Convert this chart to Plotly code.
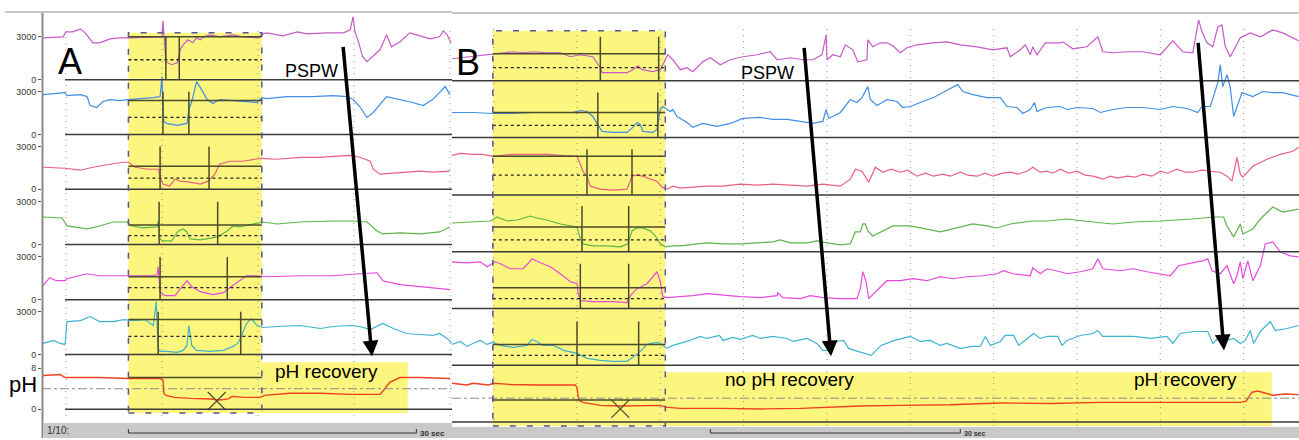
import plotly.graph_objects as go

W, H = 1299, 440

# ====================== DATA ======================
# Panel A : time in seconds, impedance in ohm, pH in pH units
A_ch1_t = [7.6, 9.7, 10.0, 10.7, 11.5, 12.0, 12.8, 13.5, 14.6, 15.6, 16.5, 18.75, 20.0, 20.1, 20.2, 20.4, 21.0, 21.6, 21.9, 22.2, 22.7, 23.2, 23.6, 24.0, 24.3, 25.0, 26.0, 27.4, 28.4, 29.5, 30.0, 30.5, 30.9, 32.6, 34.1, 35.1, 37.2, 38.9, 39.6, 39.9, 40.1, 40.4, 40.9, 41.35, 41.9, 42.7, 43.4, 43.9, 44.8, 45.8, 46.9, 47.9, 48.9, 49.3, 49.7, 50.1]
A_ch1_ohm = [2940, 3010, 3360, 3360, 3570, 3290, 2590, 2590, 2870, 2940, 2940, 3010, 3010, 4130, 3010, 1260, 1050, 1190, 2100, 2450, 2800, 2590, 2940, 2800, 3010, 3150, 3010, 3150, 3010, 2940, 2940, 3220, 3290, 3080, 3360, 3220, 3290, 3290, 3500, 4410, 3360, 2800, 1610, 1260, 1610, 2100, 3150, 2310, 2660, 3290, 3080, 2870, 3010, 3430, 3150, 2590]

A_ch2_t = [7.6, 9.9, 10.1, 11.5, 12.2, 12.5, 13.2, 13.85, 14.6, 15.6, 16.5, 18.0, 19.1, 19.8, 20.0, 20.1, 20.2, 20.5, 21.6, 22.6, 22.8, 23.1, 23.4, 23.6, 24.0, 24.7, 25.3, 26.0, 27.4, 28.8, 29.9, 30.4, 30.9, 33.0, 35.7, 37.8, 39.3, 39.9, 40.6, 41.35, 42.0, 43.4, 44.8, 46.1, 47.2, 48.2, 49.5, 50.0]
A_ch2_ohm = [2800, 2940, 2730, 2800, 2660, 2030, 1890, 2310, 2450, 2380, 2450, 2520, 2590, 2660, 4060, 1960, 910, 770, 630, 770, 1750, 2310, 3150, 3710, 3290, 2450, 2170, 2450, 2380, 2310, 2240, 2590, 2520, 2660, 2660, 2730, 2660, 2450, 1960, 1190, 1540, 2660, 2450, 2240, 2030, 2450, 3360, 2800]

A_ch3_t = [7.6, 9.9, 11.5, 12.8, 14.6, 15.9, 16.5, 17.2, 18.6, 19.6, 19.9, 20.1, 20.8, 21.35, 21.9, 22.9, 24.0, 24.8, 25.5, 26.0, 27.1, 28.4, 30.4, 31.9, 34.4, 36.5, 37.8, 39.6, 40.6, 41.7, 42.0, 42.7, 44.1, 45.5, 46.9, 48.2, 50.0]
A_ch3_ohm = [1540, 1470, 1330, 1540, 1750, 1890, 1890, 1540, 1400, 1400, 700, 350, 210, 700, 560, 490, 350, 560, 1050, 1750, 1960, 1960, 2170, 2100, 2240, 2240, 2310, 2380, 2240, 1960, 1400, 1050, 1120, 1190, 1260, 1190, 1260]

A_ch4_t = [7.6, 9.6, 10.1, 12.2, 13.5, 14.9, 16.35, 16.9, 18.0, 19.5, 19.6, 19.8, 20.1, 21.0, 21.7, 22.2, 22.6, 22.9, 24.0, 25.0, 25.8, 26.8, 27.4, 28.1, 29.5, 30.5, 32.0, 34.4, 37.8, 39.9, 41.35, 42.4, 43.0, 44.8, 46.9, 48.9, 50.0]
A_ch4_ohm = [1925, 1855, 1295, 1085, 1295, 1575, 1575, 1295, 1155, 1225, 1645, 385, 245, 245, 945, 1085, 875, 385, 315, 455, 525, 945, 1295, 1225, 1435, 1575, 1435, 1575, 1645, 1645, 1575, 945, 735, 805, 735, 875, 1225]

A_ch5_t = [7.6, 8.3, 9.0, 9.9, 10.1, 12.2, 13.5, 16.5, 18.75, 19.5, 19.6, 19.8, 20.3, 21.35, 22.2, 22.6, 23.1, 24.0, 25.3, 26.4, 26.9, 27.8, 28.8, 29.9, 30.5, 30.9, 34.4, 37.8, 40.6, 42.4, 43.0, 44.8, 46.9, 48.9, 50.0]
A_ch5_ohm = [980, 1540, 1330, 1330, 1470, 1820, 1680, 1680, 1680, 1750, 2310, 560, 280, 280, 980, 1330, 910, 560, 350, 490, 770, 1190, 1680, 1680, 1610, 1610, 1680, 1680, 1820, 1890, 1330, 1050, 910, 770, 700]

A_ch6_t = [7.6, 8.7, 9.4, 9.9, 10.1, 11.5, 12.5, 13.5, 14.9, 16.0, 17.1, 18.2, 19.1, 19.4, 19.6, 19.8, 20.5, 21.6, 22.2, 22.6, 22.8, 23.1, 23.6, 25.0, 26.4, 27.4, 27.9, 28.3, 28.8, 29.3, 29.9, 30.5, 32.0, 34.4, 36.5, 37.8, 39.6, 40.6, 41.7, 43.0, 44.1, 45.5, 46.9, 48.2, 48.9, 49.7, 50.2]
A_ch6_ohm = [770, 980, 770, 700, 2310, 2380, 2660, 2310, 2310, 2450, 2380, 2450, 2030, 3710, 420, 210, 210, 140, 280, 630, 2030, 630, 280, 210, 280, 560, 770, 1330, 2170, 2520, 2030, 1890, 1960, 2030, 1820, 1960, 2030, 1960, 1750, 2170, 1820, 1470, 1400, 1330, 1470, 1120, 770]

A_ph_t = [7.6, 9.4, 9.9, 13.5, 16.5, 19.8, 20.1, 20.2, 20.4, 21.35, 22.9, 25.0, 26.0, 26.9, 27.3, 28.6, 30.2, 30.7, 33.3, 36.5, 39.6, 42.7, 43.0, 43.75, 44.8, 46.9, 50.0]
A_ph = [6.6, 6.8, 6.2, 6.2, 6.0, 6.0, 5.7, 3.1, 2.7, 2.3, 2.1, 2.0, 1.8, 2.0, 2.5, 2.3, 2.3, 2.7, 3.1, 3.1, 2.9, 2.9, 3.5, 5.3, 6.2, 6.2, 6.0]

# Panel B
B_ch1_t = [5.0, 6.0, 8.4, 9.9, 11.6, 12.3, 13.5, 14.7, 16.4, 18.0, 19.2, 20.4, 21.9, 22.8, 23.0, 24.3, 26.0, 26.7, 27.3, 27.8, 29.1, 30.0, 30.6, 30.9, 31.5, 32.4, 33.2, 33.9, 35.1, 36.0, 37.2, 38.4, 39.9, 41.6, 43.2, 44.0, 45.6, 47.1, 48.3, 49.4, 49.9, 50.0, 50.7, 51.6, 52.2, 53.1, 53.7, 54.8, 54.9, 55.5, 56.4, 57.2, 57.9, 58.8, 59.6, 60.8, 62.7, 64.4, 66.0, 68.0, 69.9, 71.6, 72.0, 73.2, 73.8, 74.4, 74.7, 75.2, 76.2, 78.0, 78.3, 79.5, 81.2, 82.5, 83.1, 84.3, 86.0, 87.9, 90.0, 91.5, 92.7, 93.9, 94.6, 95.0, 95.6, 96.3, 96.9, 97.4, 97.8, 98.4, 99.6, 100.8, 102.0, 103.5, 104.7, 105.9, 106.6]
B_ch1_ohm = [1540, 1610, 1750, 1890, 1960, 2030, 1960, 2030, 1960, 1960, 1680, 1820, 1680, 910, 560, 560, 560, 770, 1050, 770, 630, 770, 1470, 1820, 1470, 770, 910, 630, 1330, 1610, 1120, 1470, 1680, 1820, 2030, 1470, 1610, 1470, 1470, 1820, 3220, 1470, 1820, 1680, 2520, 2170, 1330, 1470, 2870, 2380, 2660, 2660, 2450, 1960, 2310, 2520, 2660, 2730, 2520, 2380, 2170, 2310, 1680, 2170, 2520, 1820, 2380, 1820, 2660, 2660, 2730, 2240, 2380, 3080, 2030, 1960, 2030, 2030, 1820, 2800, 2030, 1960, 4270, 3430, 2660, 2380, 3780, 3920, 2380, 1680, 3010, 3360, 3080, 3570, 3360, 3010, 2800]

B_ch2_t = [5.0, 7.5, 9.9, 12.3, 14.7, 17.1, 19.5, 20.4, 21.2, 21.9, 22.5, 23.0, 24.3, 26.0, 26.7, 27.2, 27.6, 27.9, 29.1, 29.6, 30.0, 30.3, 31.2, 31.5, 32.0, 33.2, 33.9, 35.1, 36.8, 38.4, 39.9, 42.0, 43.5, 45.2, 46.8, 48.3, 49.5, 49.9, 50.2, 51.6, 52.8, 53.6, 54.2, 54.9, 55.2, 56.0, 57.2, 58.4, 59.1, 60.0, 61.2, 62.8, 63.9, 65.1, 65.7, 66.3, 67.5, 69.2, 70.8, 71.6, 72.8, 73.5, 74.4, 74.9, 75.2, 76.4, 78.0, 78.8, 80.0, 81.9, 82.8, 84.3, 86.0, 87.9, 90.0, 91.5, 93.2, 94.5, 95.0, 96.0, 96.9, 97.2, 97.5, 98.0, 98.4, 98.8, 99.2, 99.8, 101.1, 102.3, 103.5, 104.7, 106.6]
B_ch2_ohm = [1750, 1750, 1680, 1680, 1750, 1750, 1750, 1890, 1820, 1470, 840, 420, 350, 350, 700, 1050, 910, 420, 350, 560, 1960, 2170, 1820, 1960, 1470, 1050, 700, 980, 770, 980, 1330, 1400, 1260, 1260, 1120, 980, 1120, 1960, 1330, 1750, 2660, 2450, 2800, 3570, 2660, 2240, 2660, 2520, 2100, 2170, 2450, 2800, 3150, 3500, 3710, 3220, 3010, 2800, 2800, 2170, 2100, 1680, 1960, 2450, 1820, 2100, 2170, 1960, 2100, 2030, 1750, 1960, 2100, 2100, 1960, 2170, 2030, 1750, 2170, 2170, 3850, 5110, 3570, 4410, 3500, 1470, 2170, 3150, 2870, 3220, 3150, 3150, 2870]

B_ch3_t = [5.0, 6.0, 7.5, 8.7, 9.9, 12.3, 14.7, 16.4, 18.0, 19.2, 20.0, 20.4, 20.7, 21.2, 21.6, 22.8, 24.3, 26.0, 26.6, 27.2, 27.9, 28.8, 29.6, 30.2, 30.8, 31.5, 32.4, 33.9, 35.6, 37.5, 39.6, 41.6, 43.5, 45.6, 47.6, 49.5, 51.6, 52.8, 53.4, 54.2, 54.8, 55.0, 55.8, 56.7, 57.7, 58.8, 59.7, 60.8, 61.8, 62.8, 63.9, 64.8, 66.0, 66.9, 68.0, 69.0, 69.9, 71.1, 72.0, 72.9, 74.0, 74.7, 75.6, 76.4, 77.1, 78.0, 79.0, 80.0, 81.0, 81.9, 82.8, 83.1, 84.0, 84.9, 86.0, 87.0, 87.9, 89.0, 90.0, 90.9, 92.0, 93.0, 93.9, 95.0, 96.0, 97.2, 98.0, 98.6, 99.2, 99.6, 99.9, 101.1, 102.8, 104.4, 105.9, 106.6]
B_ch3_ohm = [2800, 2940, 2870, 2870, 2730, 2870, 2870, 2870, 2800, 2730, 2730, 2170, 1680, 1330, 630, 420, 350, 420, 1330, 1400, 1330, 1120, 980, 560, 420, 630, 490, 560, 630, 630, 770, 700, 770, 700, 630, 770, 630, 1120, 1820, 1680, 1120, 910, 1960, 1610, 1820, 1610, 1750, 1330, 1540, 1330, 1470, 1330, 1610, 1400, 1330, 1540, 1330, 1540, 1610, 1470, 1680, 1960, 1610, 1680, 1540, 1820, 1540, 1680, 1400, 1330, 1190, 1120, 1330, 1190, 1330, 1260, 1470, 1330, 1680, 1540, 1820, 1610, 1610, 1750, 1680, 1610, 1330, 980, 2660, 1470, 1260, 2030, 2520, 2870, 3080, 3360]

B_ch4_t = [5.0, 8.4, 9.6, 10.4, 11.6, 12.8, 14.4, 15.2, 16.4, 18.0, 19.5, 20.0, 20.4, 20.7, 21.9, 23.6, 25.2, 26.1, 26.6, 27.2, 27.9, 28.8, 29.4, 30.0, 30.6, 31.5, 32.4, 33.6, 35.6, 37.5, 39.6, 41.6, 43.5, 44.4, 45.6, 47.6, 48.8, 50.0, 51.6, 52.8, 53.4, 54.0, 54.3, 54.6, 54.9, 55.5, 56.7, 57.9, 60.0, 62.0, 63.6, 65.1, 67.5, 69.2, 70.4, 72.0, 74.7, 76.4, 78.8, 81.9, 84.3, 86.7, 90.0, 93.9, 96.4, 97.6, 98.0, 98.8, 99.6, 99.9, 101.1, 102.0, 103.5, 104.7, 106.6]
B_ch4_ohm = [2030, 2170, 2170, 2450, 2170, 2240, 2520, 2380, 2240, 1960, 1820, 1750, 910, 560, 420, 420, 350, 560, 1470, 1680, 1680, 1470, 1120, 560, 350, 420, 420, 490, 630, 560, 560, 630, 700, 840, 630, 630, 770, 630, 490, 560, 1400, 1400, 1960, 1960, 1470, 1120, 1470, 1820, 1820, 1610, 1400, 1610, 1960, 1820, 1680, 1960, 2170, 2170, 2310, 2100, 1960, 2100, 2170, 2310, 2450, 2450, 1820, 1050, 1960, 1260, 1610, 2310, 3150, 2800, 3010]

B_ch5_t = [5.0, 6.8, 8.4, 9.2, 10.2, 10.8, 12.0, 13.5, 14.1, 14.6, 15.6, 16.8, 18.0, 19.2, 20.0, 20.1, 20.4, 21.9, 24.3, 26.0, 26.4, 27.2, 28.4, 29.6, 30.0, 30.3, 30.8, 32.4, 33.9, 35.6, 38.0, 39.6, 42.0, 44.0, 44.1, 44.7, 46.8, 48.0, 49.5, 51.6, 53.6, 54.0, 54.3, 54.7, 55.0, 56.0, 57.2, 58.8, 60.3, 62.0, 63.6, 65.1, 66.8, 68.7, 70.4, 71.2, 72.3, 74.4, 74.7, 75.6, 76.4, 78.0, 78.8, 80.4, 81.9, 82.5, 83.1, 85.2, 86.7, 88.4, 90.0, 91.2, 92.2, 93.2, 94.4, 95.1, 95.7, 96.2, 97.2, 98.0, 98.8, 99.2, 99.6, 99.9, 100.5, 101.1, 102.0, 102.6, 103.5, 104.4, 105.6, 106.6]
B_ch5_ohm = [3290, 3220, 3290, 2940, 3290, 3150, 2800, 2800, 3150, 3500, 3220, 2940, 2450, 1890, 1750, 1190, 560, 490, 490, 420, 910, 1400, 1750, 2590, 1890, 840, 770, 840, 910, 1050, 910, 840, 770, 910, 1120, 770, 700, 910, 770, 700, 700, 1400, 2590, 1890, 700, 1260, 1960, 1960, 2100, 1960, 2240, 2100, 2240, 2310, 2450, 2660, 2450, 2310, 2870, 2450, 2800, 2590, 2450, 2590, 2800, 3500, 2800, 2660, 2800, 2590, 2450, 2310, 3010, 3150, 3290, 3360, 3500, 2660, 2450, 3010, 1750, 2310, 3290, 2100, 3360, 1960, 3010, 4550, 4690, 3990, 3710, 3640]

B_ch6_t = [5.0, 6.0, 6.8, 7.5, 8.4, 9.2, 9.9, 10.8, 12.3, 14.0, 14.6, 15.2, 15.9, 17.2, 18.4, 20.0, 21.2, 22.8, 24.3, 26.0, 26.7, 27.6, 28.4, 29.6, 30.2, 30.8, 31.5, 33.2, 34.8, 35.6, 37.1, 37.5, 38.7, 39.6, 41.1, 42.0, 43.5, 45.2, 45.9, 47.6, 48.8, 49.5, 50.4, 51.2, 52.0, 52.6, 53.7, 55.3, 56.5, 58.1, 60.0, 61.2, 62.4, 63.6, 64.4, 66.0, 67.5, 68.4, 69.0, 69.6, 70.8, 71.4, 72.4, 73.0, 73.6, 74.8, 75.6, 76.4, 77.7, 78.2, 78.8, 80.4, 81.9, 82.5, 83.1, 85.2, 86.8, 88.8, 90.8, 91.5, 92.4, 94.0, 95.7, 96.3, 96.9, 97.6, 98.8, 99.6, 100.2, 100.8, 101.2, 102.0, 103.2, 103.8, 105.2, 106.6]
B_ch6_ohm = [1470, 1680, 1330, 1540, 1750, 1470, 1610, 1400, 1260, 1400, 1820, 1680, 1400, 1400, 1050, 840, 490, 350, 280, 280, 560, 980, 1470, 1610, 1470, 1190, 1400, 1680, 2030, 1890, 2100, 1750, 1960, 1820, 2100, 1890, 2030, 1890, 1680, 1890, 1540, 1050, 1050, 1680, 1750, 1190, 980, 700, 1400, 1750, 2030, 1680, 1750, 1400, 1540, 1190, 1330, 1330, 2030, 1400, 1680, 2100, 2100, 1400, 1680, 2240, 1890, 2030, 2030, 1400, 1750, 2100, 2240, 2450, 2030, 2030, 2030, 1890, 2030, 1540, 2240, 2380, 2380, 1540, 1890, 1680, 1890, 1540, 1750, 2450, 1540, 2380, 3080, 2450, 2590, 2800]

B_ph_t = [5.0, 6.8, 7.5, 9.4, 9.9, 12.0, 15.6, 19.8, 20.0, 20.2, 20.7, 22.8, 25.2, 27.6, 30.0, 30.6, 32.4, 37.2, 42.0, 46.8, 50.4, 54.0, 58.8, 64.8, 70.8, 76.8, 82.8, 88.8, 94.8, 99.6, 100.3, 101.0, 101.7, 103.5, 105.0, 106.6]
B_ph = [6.5, 6.2, 6.5, 6.2, 6.5, 6.3, 6.2, 6.2, 5.8, 3.7, 3.3, 2.8, 2.7, 2.8, 2.8, 2.5, 2.3, 2.3, 2.2, 2.3, 2.5, 2.7, 2.8, 2.9, 3.2, 3.1, 3.3, 3.3, 3.2, 3.3, 3.5, 5.0, 5.2, 4.5, 4.7, 4.6]

# Reflux event analysis (seconds / ohm / pH)
A_window = [16.5, 30.4]
A_recovery_window = [30.4, 45.6]
A_entry = [20.4, 20.1, 19.8, 19.7, 19.8, 19.6]
A_exit = [21.8, 22.8, 24.9, 25.8, 26.8, 28.2]
A_base_ohm = [3010, 2380, 1610, 1365, 1610, 2450]
A_half_ohm = [1400, 1190, 770, 615, 840, 1260]
A_marker_top = [3000, 3000, 3000, 3000, 3000, 3000]
A_ph_event_level = [6.2]
A_xmark_t = [25.7]
A_xmark_ph = [1.6]

B_window = [9.9, 30.6]
B_recovery_window = [30.6, 103.4]
B_entry = [22.8, 22.5, 21.2, 20.6, 20.4, 20.0]
B_exit = [29.8, 29.7, 26.6, 26.2, 26.2, 27.4]
B_base_ohm = [1890, 1750, 2730, 1750, 1470, 1470]
B_half_ohm = [910, 840, 1400, 840, 700, 700]
B_marker_top = [3080, 3150, 3220, 3220, 3150, 3080]
B_ph_event_level = [3.7]
B_xmark_t = [25.2]
B_xmark_ph = [2.2]

PH_REFERENCE = [4]
A_grid_t = [10, 20, 30, 40, 50]
B_grid_t = [10, 20, 30, 40, 50, 60, 70, 80, 90, 100]
A_scalebar_t = [16.5, 46.5]
B_scalebar_t = [36.0, 66.0]
IMP_TICKS = [0, 3000]
PH_TICKS = [0, 8]

# ====================== GEOMETRY / STYLE ======================
A_BASE_PX = [80, 135, 190, 245.5, 301, 356]
A_PH_BASE_PX = 411
B_BASE_PX = [81, 138, 196, 253, 310, 367]
B_PH_BASE_PX = 424
SPAN_PX = 80
PAD_PX = 3
OHM_PER_PX = 70.0
A_PH_PX = 5.125
B_PH_PX = 6.0
PH_SPAN_PX = 50

CH_COLORS = ['#c65ac8', '#3f8fe6', '#ea5f80', '#5db64a', '#e64ade', '#3fb3cf']
PH_COLOR = '#f0401e'
YELLOW = '#fcf67e'
EVENT_COLOR = '#4b4b2d'
FONT = 'Liberation Sans, Arial, sans-serif'


def py(px):
    return 1 - px / H


def yname(n):
    return 'y' if n == 1 else f'y{n}'


def ykey(n):
    return 'yaxis' if n == 1 else f'yaxis{n}'


layout_axes = {
    'xaxis': dict(domain=[42 / W, 452 / W], range=[7.5, 7.5 + 410 / 9.6], visible=False, anchor='y7'),
    'xaxis2': dict(domain=[452 / W, 1.0], range=[5.0, 5.0 + 847 / 8.333], visible=False, anchor='y14'),
}

fig = go.Figure()

A_t = [A_ch1_t, A_ch2_t, A_ch3_t, A_ch4_t, A_ch5_t, A_ch6_t]
A_v = [A_ch1_ohm, A_ch2_ohm, A_ch3_ohm, A_ch4_ohm, A_ch5_ohm, A_ch6_ohm]
B_t = [B_ch1_t, B_ch2_t, B_ch3_t, B_ch4_t, B_ch5_t, B_ch6_t]
B_v = [B_ch1_ohm, B_ch2_ohm, B_ch3_ohm, B_ch4_ohm, B_ch5_ohm, B_ch6_ohm]

tickfont = dict(size=9, color='#3a3a3a', family=FONT)

for i in range(6):
    n = i + 1
    b = A_BASE_PX[i]
    layout_axes[ykey(n)] = dict(
        domain=[py(b + PAD_PX), min(1.0, py(b - SPAN_PX))],
        range=[-PAD_PX * OHM_PER_PX, SPAN_PX * OHM_PER_PX],
        anchor='x', showgrid=False, zeroline=False, showline=False,
        tickmode='array', tickvals=IMP_TICKS, ticktext=[str(v) for v in IMP_TICKS],
        ticks='outside', ticklen=3, tickcolor='#555', tickfont=tickfont)
    fig.add_trace(go.Scatter(x=A_t[i], y=A_v[i], xaxis='x', yaxis=yname(n), mode='lines',
                             line=dict(color=CH_COLORS[i], width=1.2), hoverinfo='skip', showlegend=False))

layout_axes[ykey(7)] = dict(
    domain=[py(A_PH_BASE_PX + PAD_PX), py(A_PH_BASE_PX - PH_SPAN_PX)],
    range=[-PAD_PX / A_PH_PX, PH_SPAN_PX / A_PH_PX],
    anchor='x', showgrid=False, zeroline=False, showline=False,
    tickmode='array', tickvals=PH_TICKS, ticktext=[str(v) for v in PH_TICKS],
    ticks='outside', ticklen=3, tickcolor='#555', tickfont=tickfont)
fig.add_trace(go.Scatter(x=A_ph_t, y=A_ph, xaxis='x', yaxis='y7', mode='lines',
                         line=dict(color=PH_COLOR, width=1.4), hoverinfo='skip', showlegend=False))

for i in range(6):
    n = 8 + i
    b = B_BASE_PX[i]
    layout_axes[ykey(n)] = dict(
        domain=[py(b + PAD_PX), min(1.0, py(b - SPAN_PX))],
        range=[-PAD_PX * OHM_PER_PX, SPAN_PX * OHM_PER_PX],
        anchor='x2', visible=False, showgrid=False, zeroline=False)
    fig.add_trace(go.Scatter(x=B_t[i], y=B_v[i], xaxis='x2', yaxis=yname(n), mode='lines',
                             line=dict(color=CH_COLORS[i], width=1.2), hoverinfo='skip', showlegend=False))

layout_axes[ykey(14)] = dict(
    domain=[py(B_PH_BASE_PX + PAD_PX), py(B_PH_BASE_PX - PH_SPAN_PX)],
    range=[-PAD_PX / B_PH_PX, PH_SPAN_PX / B_PH_PX],
    anchor='x2', visible=False, showgrid=False, zeroline=False)
fig.add_trace(go.Scatter(x=B_ph_t, y=B_ph, xaxis='x2', yaxis='y14', mode='lines',
                         line=dict(color=PH_COLOR, width=1.4), hoverinfo='skip', showlegend=False))

# X marks (pH nadir)
fig.add_trace(go.Scatter(x=A_xmark_t, y=A_xmark_ph, xaxis='x', yaxis='y7', mode='markers',
                         marker=dict(symbol='x-thin', size=18, line=dict(width=1.2, color=EVENT_COLOR)),
                         hoverinfo='skip', showlegend=False))
fig.add_trace(go.Scatter(x=B_xmark_t, y=B_xmark_ph, xaxis='x2', yaxis='y14', mode='markers',
                         marker=dict(symbol='x-thin', size=18, line=dict(width=1.2, color=EVENT_COLOR)),
                         hoverinfo='skip', showlegend=False))

# ====================== SHAPES ======================
shapes = []
# yellow highlights
shapes.append(dict(type='rect', xref='x', yref='paper', x0=A_window[0], x1=A_window[1],
                   y0=py(415), y1=py(33), fillcolor=YELLOW, line_width=0, layer='below'))
shapes.append(dict(type='rect', xref='x', yref='paper', x0=A_recovery_window[0], x1=A_recovery_window[1],
                   y0=py(415), y1=py(364), fillcolor=YELLOW, line_width=0, layer='below'))
shapes.append(dict(type='rect', xref='x2', yref='paper', x0=B_window[0], x1=B_window[1],
                   y0=py(428), y1=py(31), fillcolor=YELLOW, line_width=0, layer='below'))
shapes.append(dict(type='rect', xref='x2', yref='paper', x0=B_recovery_window[0], x1=B_recovery_window[1],
                   y0=py(428), y1=py(374), fillcolor=YELLOW, line_width=0, layer='below'))

# dotted time grid
for t in A_grid_t:
    shapes.append(dict(type='line', xref='x', yref='paper', x0=t, x1=t, y0=py(418), y1=py(28),
                       line=dict(color='#8a8a8a', width=1, dash='1px,5px'), layer='below'))
for t in B_grid_t:
    shapes.append(dict(type='line', xref='x2', yref='paper', x0=t, x1=t, y0=py(428), y1=py(28),
                       line=dict(color='#8a8a8a', width=1, dash='1px,5px'), layer='below'))

# channel baselines
A_x_start, A_x_end = 9.9, 7.5 + 410 / 9.6
B_x_start, B_x_end = 5.0, 5.0 + 847 / 8.333
for n in range(1, 8):
    shapes.append(dict(type='line', xref='x', yref=yname(n), x0=A_x_start, x1=A_x_end, y0=0, y1=0,
                       line=dict(color='#3a3a3a', width=1.5)))
for n in range(8, 15):
    shapes.append(dict(type='line', xref='x2', yref=yname(n), x0=B_x_start, x1=B_x_end, y0=0, y1=0,
                       line=dict(color='#3a3a3a', width=1.5)))

# pH 4 reference
shapes.append(dict(type='line', xref='x', yref='y7', x0=7.5, x1=A_x_end, y0=PH_REFERENCE[0], y1=PH_REFERENCE[0],
                   line=dict(color='#8c8c8c', width=1, dash='dashdot')))
shapes.append(dict(type='line', xref='x2', yref='y14', x0=B_x_start, x1=B_x_end, y0=PH_REFERENCE[0], y1=PH_REFERENCE[0],
                   line=dict(color='#8c8c8c', width=1, dash='dashdot')))

# event analysis markers
def add_event(xref, n, win, base, half, t_in, t_out, top):
    shapes.append(dict(type='line', xref=xref, yref=yname(n), x0=win[0], x1=win[1], y0=base, y1=base,
                       line=dict(color=EVENT_COLOR, width=1.5), layer='above'))
    shapes.append(dict(type='line', xref=xref, yref=yname(n), x0=win[0], x1=win[1], y0=half, y1=half,
                       line=dict(color='#222', width=1.3, dash='3px,3px'), layer='above'))
    for tt in (t_in, t_out):
        shapes.append(dict(type='line', xref=xref, yref=yname(n), x0=tt, x1=tt, y0=0, y1=top,
                           line=dict(color=EVENT_COLOR, width=1.5), layer='above'))

for i in range(6):
    add_event('x', i + 1, A_window, A_base_ohm[i], A_half_ohm[i], A_entry[i], A_exit[i], A_marker_top[i])
    add_event('x2', i + 8, B_window, B_base_ohm[i], B_half_ohm[i], B_entry[i], B_exit[i], B_marker_top[i])

shapes.append(dict(type='line', xref='x', yref='y7', x0=A_window[0], x1=A_window[1],
                   y0=A_ph_event_level[0], y1=A_ph_event_level[0], line=dict(color=EVENT_COLOR, width=1.5), layer='above'))
shapes.append(dict(type='line', xref='x2', yref='y14', x0=B_window[0], x1=B_window[1],
                   y0=B_ph_event_level[0], y1=B_ph_event_level[0], line=dict(color=EVENT_COLOR, width=1.5), layer='above'))

# dashed borders of the analysed windows
shapes.append(dict(type='rect', xref='x', yref='paper', x0=A_window[0], x1=A_window[1], y0=py(415), y1=py(33),
                   line=dict(color='#55559a', width=1.5, dash='6px,11px'), fillcolor='rgba(0,0,0,0)', layer='above'))
shapes.append(dict(type='rect', xref='x2', yref='paper', x0=B_window[0], x1=B_window[1], y0=py(428), y1=py(31),
                   line=dict(color='#55559a', width=1.5, dash='6px,11px'), fillcolor='rgba(0,0,0,0)', layer='above'))

# frame elements
shapes.append(dict(type='line', xref='paper', yref='paper', x0=42.5 / W, x1=42.5 / W, y0=0, y1=py(12),
                   line=dict(color='#8a8a8a', width=2)))
shapes.append(dict(type='line', xref='paper', yref='paper', x0=5 / W, x1=452 / W, y0=py(12), y1=py(12),
                   line=dict(color='#c8c8c8', width=2)))
shapes.append(dict(type='line', xref='paper', yref='paper', x0=452 / W, x1=1.0, y0=py(13), y1=py(13),
                   line=dict(color='#c8c8c8', width=2)))
shapes.append(dict(type='rect', xref='paper', yref='paper', x0=43.5 / W, x1=452 / W, y0=0, y1=py(425),
                   fillcolor='#c9c9c9', line_width=0))
shapes.append(dict(type='rect', xref='paper', yref='paper', x0=452 / W, x1=1.0, y0=0, y1=py(429),
                   fillcolor='#c9c9c9', line_width=0))

# 30 sec scale bars
for xr, sb in (('x', A_scalebar_t), ('x2', B_scalebar_t)):
    shapes.append(dict(type='line', xref=xr, yref='paper', x0=sb[0], x1=sb[1], y0=py(435), y1=py(435),
                       line=dict(color='#333', width=1)))
    for tt in sb:
        shapes.append(dict(type='line', xref=xr, yref='paper', x0=tt, x1=tt, y0=py(435), y1=py(431),
                           line=dict(color='#333', width=1)))

# ====================== ANNOTATIONS ======================
annots = []


def label(text, xpx, ypx, size, color='black'):
    annots.append(dict(text=text, x=xpx / W, y=py(ypx), xref='paper', yref='paper', showarrow=False,
                       xanchor='center', yanchor='middle', font=dict(size=size, color=color, family=FONT)))


label('A', 70, 62, 36)
label('B', 468, 63, 36)
label('PSPW', 311, 71, 18)
label('PSPW', 767, 73, 18)
label('pH recovery', 326, 373, 19)
label('no pH recovery', 789, 381, 19)
label('pH recovery', 1185, 381, 19)
label('pH', 23, 386, 22)

annots.append(dict(text='1/10:', x=45 / W, y=py(432), xref='paper', yref='paper', showarrow=False,
                   xanchor='left', yanchor='middle', font=dict(size=10, color='#333', family=FONT)))
annots.append(dict(text='<b>30 sec</b>', x=A_scalebar_t[1], y=py(435), xref='x', yref='paper', showarrow=False,
                   xanchor='left', yanchor='middle', xshift=2, font=dict(size=8, color='#333', family=FONT)))
annots.append(dict(text='<b>30 sec</b>', x=B_scalebar_t[1], y=py(435), xref='x2', yref='paper', showarrow=False,
                   xanchor='left', yanchor='middle', xshift=2, font=dict(size=7, color='#333', family=FONT)))

for hx, hy, tx, ty in ((372, 358, 343, 47), (831, 358, 804, 48), (1224, 352, 1198, 43)):
    annots.append(dict(text='', x=hx / W, y=py(hy), xref='paper', yref='paper', showarrow=True,
                       ax=tx - hx, ay=ty - hy, axref='pixel', ayref='pixel',
                       arrowhead=2, arrowsize=0.9, arrowwidth=3.5, arrowcolor='black', standoff=0))

fig.update_layout(
    width=W, height=H, autosize=False,
    margin=dict(l=0, r=0, t=0, b=0, pad=0),
    paper_bgcolor='white', plot_bgcolor='rgba(0,0,0,0)',
    showlegend=False, font=dict(family=FONT),
    shapes=shapes, annotations=annots,
    **layout_axes,
)

fig.write_html('out.html')
